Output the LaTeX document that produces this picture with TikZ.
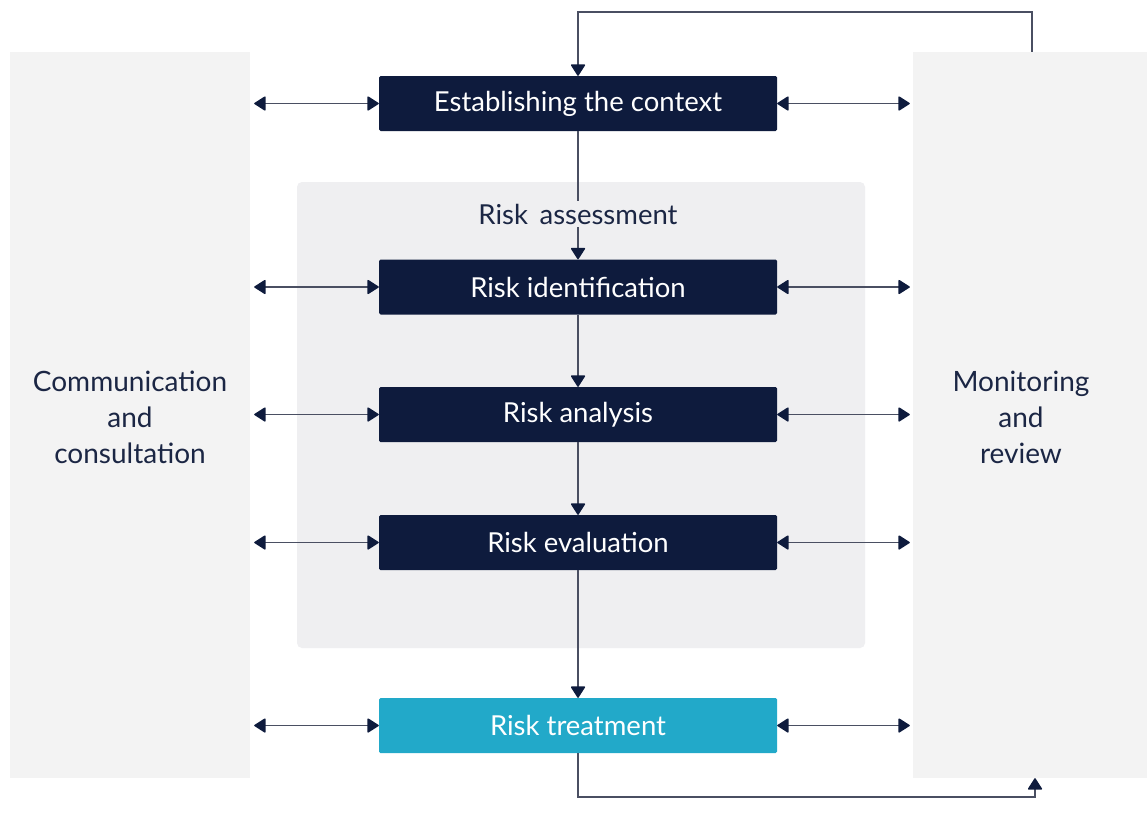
\documentclass[tikz,border=0pt]{standalone}
\usepackage{fontspec}
\setmainfont{Lato}
\usetikzlibrary{arrows.meta}
\definecolor{navy}{HTML}{0E1B3D}
\definecolor{teal}{HTML}{22A9C9}
\definecolor{panelgray}{HTML}{F3F3F3}
\definecolor{innergray}{HTML}{EFEFF1}
\definecolor{linegray}{HTML}{4A4F62}
\definecolor{labeltext}{HTML}{1B2644}
\tikzset{
  sidepanel/.style={fill=panelgray, draw=none, inner sep=0pt},
  stepbox/.style={fill=navy, draw=none, text=white, minimum width=398pt, minimum height=55pt,
    inner sep=0pt, rounded corners=1.5pt, font=\fontsize{27.5}{32}\selectfont},
  treatbox/.style={stepbox, fill=teal},
  sidelabel/.style={text=labeltext, align=center, font=\fontsize{28}{36}\selectfont},
  conn/.style={draw=linegray, line width=1.4pt},
  head/.tip={Triangle[width=15pt,length=12pt,round,fill=navy,color=navy]},
  tip/.style={-head},
  biarrow/.style={conn, head-head}
}
\begin{document}
\begin{tikzpicture}[x=1pt,y=-1pt]
  \useasboundingbox (0,0) rectangle (1147,814);
  \fill[white] (0,0) rectangle (1147,814);

  % side panels
  \node[sidepanel, minimum width=240pt, minimum height=726pt] (comm) at (130,415) {};
  \node[sidepanel, minimum width=234pt, minimum height=726pt] (mon) at (1030,415) {};
  \node[sidelabel] (commlbl) at (130,417) {Communication\\and\\consultation};
  \node[sidelabel] (monlbl) at (1021,417) {Monitoring\\and\\review};

  % risk assessment panel
  \fill[innergray, rounded corners=5pt] (297,182) rectangle (865,648);

  % process steps
  \node[stepbox] (ctx) at (578,103.5) {Establishing the context};
  \node[stepbox] (ident) at (578,287) {Risk identification};
  \node[stepbox] (anal) at (578,414.5) {Risk analysis};
  \node[stepbox] (eval) at (578,542.5) {Risk evaluation};
  \node[treatbox] (treat) at (578,725.5) {Risk treatment};

  % main flow
  \draw[conn, tip] (ctx.south) -- (ident.north);
  \node[fill=innergray, text=labeltext, inner sep=3pt, font=\fontsize{27.5}{32}\selectfont] (assess) at (578,214) {Risk\, assessment};
  \draw[conn, tip] (ident.south) -- (anal.north);
  \draw[conn, tip] (anal.south) -- (eval.north);
  \draw[conn, tip] (eval.south) -- (treat.north);

  % feedback loops
  \coordinate (topR) at (1032,12);
  \coordinate (botR) at (1035,797);
  \draw[conn, tip] (mon.north -| topR) -- (topR) -- (topR -| ctx.north) -- (ctx.north);
  \draw[conn, tip] (treat.south) -- (treat.south |- botR) -- (botR) -- (botR |- mon.south);

  % links to the side panels
  \foreach \b in {ctx,ident,anal,eval,treat}{
    \draw[biarrow, shorten <=4pt] (comm.east |- \b.west) -- (\b.west);
    \draw[biarrow, shorten >=3pt] (\b.east) -- (mon.west |- \b.east);
  }
\end{tikzpicture}
\end{document}
